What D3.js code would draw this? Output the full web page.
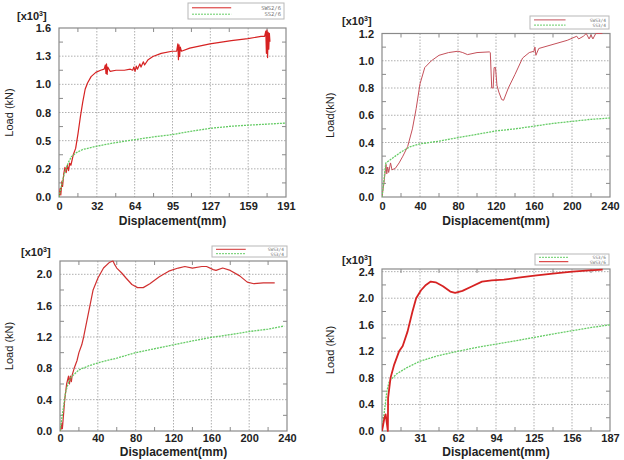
<!DOCTYPE html>
<html>
<head>
<meta charset="utf-8">
<script src="https://cdn.jsdelivr.net/npm/d3@7"></script>
<style>
  body { margin: 0; background: #fff; }
  text { font-family: 'Liberation Sans', Arial, sans-serif; }
</style>
</head>
<body>
<div id="chart"></div>
<script>
const W = 624;
const H = 460;

// ---- data (x: mm, y: x10^3 kN) ----
const p1Red = [[0,0],[1,0.08],[1.5,0.02],[2.5,0.15],[3,0.1],[4,0.22],[5,0.28],[6,0.23],[7,0.3],[8,0.25],
  [9,0.32],[10,0.3],[12,0.4],[14,0.46],[16,0.6],[18,0.76],[20,0.9],[22,1.02],[24,1.08],[27,1.14],[31,1.18],
  [35,1.2],[38,1.21],[39,1.25],[39.5,1.17],[40,1.26],[40.5,1.16],[41,1.23],[43,1.19],[48,1.2],[55,1.2],
  [60,1.21],[62,1.2],[63,1.23],[64,1.19],[65,1.24],[66,1.21],[68,1.26],[69,1.23],[71,1.28],[72,1.25],
  [75,1.3],[79,1.33],[86,1.36],[95,1.38],[99,1.38],[100,1.45],[100.5,1.3],[101,1.44],[101.5,1.33],
  [102,1.42],[103,1.38],[110,1.41],[127,1.45],[145,1.48],[159,1.5],[170,1.52],[173,1.52],[174,1.57],
  [174.5,1.36],[175,1.58],[175.5,1.32],[176,1.56],[176.5,1.4],[177,1.55],[177.5,1.47]];
const p1Green = [[0,0],[2,0.1],[4,0.2],[6,0.27],[8,0.33],[10.4,0.38],[14.6,0.42],[20,0.45],[31.5,0.48],
  [45,0.51],[62,0.54],[80,0.57],[95,0.59],[110,0.62],[127,0.65],[145,0.67],[159,0.68],[175,0.69],[191,0.7]];

const p2Red = [[0,0],[2,0.1],[4.2,0.24],[5,0.17],[6,0.22],[7,0.18],[9,0.25],[10.5,0.2],[14,0.21],
  [18,0.25],[22,0.3],[27,0.37],[32,0.5],[36,0.65],[40,0.83],[45,0.95],[52,1.0],[60,1.04],[70,1.06],
  [80,1.07],[85,1.06],[90,1.045],[100,1.06],[113,1.065],[114,1.06],[115.5,0.8],[117,0.8],[118,0.95],
  [119.5,0.95],[121,0.82],[123,0.77],[126,0.715],[128,0.71],[133,0.8],[140,0.9],[148,1.02],[155,1.06],
  [160,1.07],[161,1.1],[162,1.04],[165,1.09],[180,1.12],[195,1.15],[205,1.18],[207,1.16],[212,1.18],
  [215,1.2],[218,1.16],[220,1.19],[222,1.16],[225,1.2],[232,1.2]];
const p2Green = [[0,0],[2,0.12],[4,0.25],[8,0.27],[14,0.3],[20,0.33],[30,0.37],[40,0.39],[60,0.41],
  [80,0.436],[100,0.46],[120,0.485],[140,0.5],[160,0.52],[180,0.54],[200,0.555],[220,0.57],[240,0.58]];

const p3Red = [[0,0],[1,0.02],[2,0.1],[2.5,0.03],[3,0.1],[4,0.25],[5,0.4],[6,0.5],[7,0.6],[9,0.7],
  [10,0.6],[11,0.7],[12,0.63],[13,0.72],[15,0.8],[18,0.9],[20,1.0],[23,1.1],[25,1.2],[30,1.5],[35,1.8],
  [40,1.95],[46,2.08],[52,2.15],[56,2.17],[58,2.12],[60,2.08],[65,2.02],[70,1.95],[76,1.87],[82,1.83],
  [88,1.83],[95,1.88],[105,1.97],[115,2.04],[125,2.08],[132,2.1],[140,2.08],[150,2.1],[155,2.1],
  [162,2.06],[165,2.05],[172,2.08],[180,2.05],[190,1.98],[198,1.9],[205,1.88],[215,1.89],[227,1.89]];
const p3Green = [[0,0],[3,0.25],[6,0.5],[9,0.62],[12,0.69],[20,0.78],[30,0.83],[40,0.87],[60,0.93],
  [80,1.0],[100,1.05],[120,1.1],[140,1.15],[160,1.195],[180,1.23],[200,1.27],[220,1.3],[237,1.34]];

const p4Red = [[0,0],[2,0.2],[3,0.25],[4.8,0],[5,0.5],[7,0.8],[10,1.0],[14,1.2],[17,1.28],[21,1.5],
  [25,1.8],[28,2.0],[32,2.12],[36,2.2],[40,2.25],[44,2.24],[50,2.18],[56,2.1],[60,2.08],[66,2.11],
  [74,2.18],[82,2.25],[90,2.27],[100,2.28],[112,2.31],[125,2.34],[140,2.37],[156,2.4],[170,2.42],[181,2.43]];
const p4Green = [[0,0],[2,0.3],[4,0.6],[6,0.75],[12,0.86],[20,0.95],[31,1.05],[45,1.13],[62,1.2],
  [78,1.26],[94,1.31],[110,1.36],[125,1.41],[140,1.46],[156,1.51],[172,1.56],[187,1.6]];

// tick labels
const p1XLabels = ['0', '32', '64', '95', '127', '159', '191'];
const p1YLabels = ['0.0', '0.2', '0.5', '0.8', '1.0', '1.3', '1.6'];
const p2XLabels = ['0', '40', '80', '120', '160', '200', '240'];
const p2YLabels = ['0.0', '0.2', '0.4', '0.6', '0.8', '1.0', '1.2'];
const p3XLabels = ['0', '40', '80', '120', '160', '200', '240'];
const p3YLabels = ['0.0', '0.4', '0.8', '1.2', '1.6', '2.0'];
const p4XLabels = ['0', '31', '62', '94', '125', '156', '187'];
const p4YLabels = ['0.0', '0.4', '0.8', '1.2', '1.6', '2.0', '2.4'];

// legends
const p1Legend = ['SWS2/6', 'SS2/6'];
const p2Legend = ['SWS3/4', 'SS3/4'];
const p3Legend = ['SWS3/4', 'SS3/4'];
const p4Legend = ['SS3/6', 'SWS3/6'];

const COLORS = {
  red:   '#d62222',
  red2:  '#c4505a',
  green: '#66cc66',
  grid:  '#9a9a9a',
  frame: '#8a8a8a',
  text:  '#222'
};

var panels = [
  { box: [59, 286, 28, 197], xMax: 191, yMax: 1.6, yStep: 1.6 / 6, xLabels: p1XLabels, yLabels: p1YLabels,
    series: [{ d: p1Red, c: COLORS.red, w: 1.2 }, { d: p1Green, c: COLORS.green, w: 1.3, dash: '2,1' }],
    legend: p1Legend, legendOrder: ['red', 'green'], lbox: [188, 3, 96, 16],
    ylab: 'Load (kN)', ylabX: 9, unit: [17, 20], pad: 5, dlab: 28 },
  { box: [382, 610, 33.5, 197], xMax: 240, yMax: 1.2, yStep: 0.2, xLabels: p2XLabels, yLabels: p2YLabels,
    series: [{ d: p2Red, c: COLORS.red2, w: 1 }, { d: p2Green, c: COLORS.green, w: 1.3, dash: '2,1' }],
    legend: p2Legend, legendOrder: ['red', 'green'], lbox: [530, 16, 79, 13],
    ylab: 'Load(kN)', ylabX: 330, unit: [342, 25], pad: 5, dlab: 28 },
  { box: [60, 287, 261, 431], xMax: 240, yMax: 2.17, yStep: 0.4, xLabels: p3XLabels, yLabels: p3YLabels,
    series: [{ d: p3Red, c: '#d03030', w: 1.2 }, { d: p3Green, c: COLORS.green, w: 1.3, dash: '2,1' }],
    legend: p3Legend, legendOrder: ['red', 'green'], lbox: [212, 246, 75, 11],
    ylab: 'Load (kN)', ylabX: 9, unit: [21, 256], pad: 3, dlab: 25 },
  { box: [382, 610, 269, 431], xMax: 187, yMax: 2.44, yStep: 0.4, xLabels: p4XLabels, yLabels: p4YLabels,
    series: [{ d: p4Green, c: COLORS.green, w: 1.3, dash: '2,1' }, { d: p4Red, c: COLORS.red, w: 1.8 }],
    legend: p4Legend, legendOrder: ['green', 'red'], lbox: [535, 254, 74, 11],
    ylab: 'Load (kN)', ylabX: 330, unit: [342, 264], pad: 3, dlab: 25 }
];

var svg = d3.select('#chart').append('svg')
  .attr('width', W)
  .attr('height', H)
  .style('background-color', '#fff');

function drawPanel(p) {
  let [l, r, t, b] = p.box;
  let x = d3.scaleLinear().domain([0, p.xMax]).range([l, r]);
  let y = d3.scaleLinear().domain([0, p.yMax]).range([b, t]);
  let g = svg.append('g');

  let xt = d3.range(0, 7).map(i => p.xMax * i / 6);
  let yt = d3.range(0, p.yLabels.length).map(i => p.yStep * i);
  let xm = d3.range(0, 6).map(i => p.xMax * (i + 0.5) / 6);
  let ym = d3.range(0, 20).map(i => p.yStep * (i + 0.5)).filter(v => v < p.yMax);

  // grid
  g.selectAll('.vg').data(xt.slice(1, -1)).enter().append('line')
    .attr('x1', d => x(d)).attr('x2', d => x(d)).attr('y1', t).attr('y2', b)
    .style('stroke', COLORS.grid).style('stroke-width', 0.8).style('stroke-dasharray', '1.5,1.5');
  g.selectAll('.hg').data(yt.slice(1).filter(v => v < p.yMax - 1e-6)).enter().append('line')
    .attr('x1', l).attr('x2', r).attr('y1', d => y(d)).attr('y2', d => y(d))
    .style('stroke', COLORS.grid).style('stroke-width', 0.8).style('stroke-dasharray', '1.5,1.5');

  // minor ticks on the frame
  for (let v of xm) {
    g.append('line').attr('x1', x(v)).attr('x2', x(v)).attr('y1', b).attr('y2', b - 4)
      .style('stroke', COLORS.frame);
    g.append('line').attr('x1', x(v)).attr('x2', x(v)).attr('y1', t).attr('y2', t + 4)
      .style('stroke', COLORS.frame);
  }
  for (let v of ym) {
    g.append('line').attr('x1', l).attr('x2', l + 4).attr('y1', y(v)).attr('y2', y(v))
      .style('stroke', COLORS.frame);
    g.append('line').attr('x1', r).attr('x2', r - 4).attr('y1', y(v)).attr('y2', y(v))
      .style('stroke', COLORS.frame);
  }

  // frame
  g.append('rect')
    .attr('x', l).attr('y', t).attr('width', r - l).attr('height', b - t)
    .style('fill', 'none').style('stroke', COLORS.frame).style('stroke-width', 1.2);

  // axes
  let xAxis = d3.axisBottom(x).tickValues(xt).tickSize(0).tickPadding(p.pad)
    .tickFormat((d, i) => p.xLabels[i]);
  let yAxis = d3.axisLeft(y).tickValues(yt).tickSize(0).tickPadding(8)
    .tickFormat((d, i) => p.yLabels[i]);
  let ax = g.append('g').attr('transform', `translate(0,${b})`).call(xAxis);
  let ay = g.append('g').attr('transform', `translate(${l},0)`).call(yAxis);
  for (let a of [ax, ay]) {
    a.select('.domain').remove();
    a.selectAll('text')
      .style('font-family', "'Liberation Sans', Arial, sans-serif")
      .style('font-size', '11px').style('font-weight', 'bold').style('fill', COLORS.text);
  }

  // series
  let clip = 'clip' + l + t;
  g.append('clipPath').attr('id', clip).append('rect')
    .attr('x', l).attr('y', t - 1).attr('width', r - l).attr('height', b - t + 2);
  let line = d3.line().x(d => x(d[0])).y(d => y(d[1]));
  for (let s of p.series) {
    g.append('path').datum(s.d)
      .attr('d', line)
      .attr('clip-path', `url(#${clip})`)
      .style('fill', 'none').style('stroke', s.c).style('stroke-width', s.w)
      .style('stroke-dasharray', s.dash || null).style('stroke-linejoin', 'round');
  }

  // labels
  g.append('text')
    .attr('x', (l + r) / 2).attr('y', b + p.dlab)
    .attr('text-anchor', 'middle')
    .style('font-size', '12px').style('font-weight', 'bold').style('fill', COLORS.text)
    .text('Displacement(mm)');
  g.append('text')
    .attr('transform', `translate(${p.ylabX + 4},${(t + b) / 2}) rotate(-90)`)
    .attr('text-anchor', 'middle')
    .style('font-size', '11px').style('fill', COLORS.text)
    .text(p.ylab);
  let u = g.append('text')
    .attr('x', p.unit[0]).attr('y', p.unit[1])
    .style('font-size', '11px').style('font-weight', 'bold').style('fill', COLORS.text);
  u.append('tspan').text('[x10');
  u.append('tspan').attr('dy', -4).style('font-size', '7px').text('3');
  u.append('tspan').attr('dy', 4).text(']');

  // legend
  let [lx, ly, lw, lh] = p.lbox;
  g.append('rect')
    .attr('x', lx).attr('y', ly).attr('width', lw).attr('height', lh)
    .style('fill', '#fff').style('stroke', '#b8b8b8').style('stroke-width', 1);
  p.legendOrder.forEach((k, i) => {
    let yy = ly + lh * (i === 0 ? 0.3 : 0.7);
    let s = k === 'red' ? p.series.find(s => s.c !== COLORS.green) : p.series.find(s => s.c === COLORS.green);
    g.append('line')
      .attr('x1', lx + 4).attr('x2', lx + lw * 0.45).attr('y1', yy).attr('y2', yy)
      .style('stroke', s.c).style('stroke-width', 1).style('stroke-dasharray', s.dash || null);
    g.append('text')
      .attr('x', lx + lw - 3).attr('y', yy + 1.8)
      .attr('text-anchor', 'end')
      .style('font-family', "'DejaVu Sans Mono', monospace")
      .style('font-size', (lh > 14 ? 5.5 : 4.5) + 'px').style('fill', '#777')
      .text(p.legend[i]);
  });
}

for (let p of panels) {
  drawPanel(p);
}
</script>
</body>
</html>
